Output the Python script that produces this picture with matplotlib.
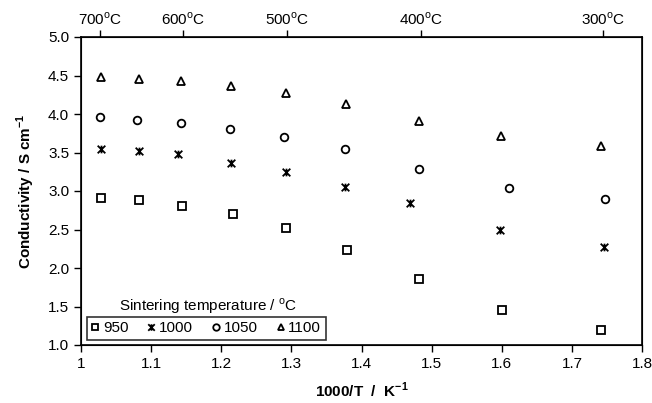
import matplotlib
matplotlib.use("Agg")
import matplotlib.pyplot as plt
from matplotlib.path import Path
import numpy as np

plt.rcParams['font.family'] = ['Liberation Sans', 'DejaVu Sans']
plt.rcParams['mathtext.fontset'] = 'custom'
plt.rcParams['mathtext.rm'] = 'Liberation Sans'
plt.rcParams['mathtext.bf'] = 'Liberation Sans:bold'

# Data
x_950 = [1.029, 1.083, 1.144, 1.217, 1.292, 1.380, 1.482, 1.601, 1.741]
y_950 = [2.91, 2.88, 2.81, 2.70, 2.52, 2.23, 1.86, 1.45, 1.19]
x_1000 = [1.029, 1.082, 1.139, 1.214, 1.292, 1.377, 1.469, 1.597, 1.746]
y_1000 = [3.55, 3.52, 3.48, 3.37, 3.25, 3.05, 2.85, 2.50, 2.27]
x_1050 = [1.027, 1.080, 1.142, 1.213, 1.289, 1.376, 1.482, 1.610, 1.747]
y_1050 = [3.96, 3.92, 3.88, 3.81, 3.70, 3.54, 3.28, 3.04, 2.90]
x_1100 = [1.029, 1.082, 1.143, 1.214, 1.292, 1.378, 1.482, 1.599, 1.741]
y_1100 = [4.48, 4.46, 4.43, 4.36, 4.27, 4.13, 3.91, 3.71, 3.58]
series_labels = ['950', '1000', '1050', '1100']
top_temps_C = [700, 600, 500, 400, 300]
x_ticks = [1, 1.1, 1.2, 1.3, 1.4, 1.5, 1.6, 1.7, 1.8]
x_tick_labels = ['1', '1.1', '1.2', '1.3', '1.4', '1.5', '1.6', '1.7', '1.8']
y_ticks = [1.0, 1.5, 2.0, 2.5, 3.0, 3.5, 4.0, 4.5, 5.0]

star = Path([(-1, -1), (1, 1), (-1, 1), (1, -1), (0, -1.0), (0, 1.0)],
            [Path.MOVETO, Path.LINETO, Path.MOVETO, Path.LINETO, Path.MOVETO, Path.LINETO])

fig = plt.figure(figsize=(6.52, 4.03), dpi=100)
ax = fig.add_axes([81/652, 1-345/403, 561/652, 308/403])

kw = dict(linestyle='none', color='black', markerfacecolor='none', markeredgewidth=1.3)
ms = 5.5
ax.plot(x_950, y_950, marker='s', markersize=ms, label=series_labels[0], **kw)
ax.plot(x_1000, y_1000, marker=star, markersize=ms, label=series_labels[1], **kw)
ax.plot(x_1050, y_1050, marker='o', markersize=ms, label=series_labels[2], **kw)
ax.plot(x_1100, y_1100, marker='^', markersize=ms, label=series_labels[3], **kw)

ax.set_xlim(1, 1.8)
ax.set_ylim(1, 5)
ax.set_xticks(x_ticks)
ax.set_xticklabels(x_tick_labels)
ax.set_yticks(y_ticks)
ax.set_yticklabels([f'{v:.1f}' for v in y_ticks])
ax.tick_params(direction='out', length=5, width=1, labelsize=11, colors='black')
for s in ax.spines.values():
    s.set_linewidth(1.2)

ax.set_xlabel('1000/T  /  K$^{\\mathbf{-1}}$', fontsize=11, fontweight='bold', labelpad=7)
ax.set_ylabel('Conductivity / S cm$^{\\mathbf{-1}}$', fontsize=11, fontweight='bold', labelpad=8)

ax2 = ax.twiny()
ax2.set_xlim(ax.get_xlim())
ax2.set_xticks([1000/(t+273.15) for t in top_temps_C])
ax2.set_xticklabels([f'{t}$^{{\\mathregular{{o}}}}$C' for t in top_temps_C])
ax2.tick_params(direction='out', length=5, width=1, labelsize=11, pad=2)

leg = ax.legend(loc='lower left', bbox_to_anchor=(0.0107, 0.016), borderaxespad=0,
                ncol=4, fontsize=11, handlelength=0.5, handletextpad=0.25,
                columnspacing=1.25, frameon=True, fancybox=False, borderpad=0.3,
                markerscale=0.85)
leg.get_frame().set_edgecolor('black')
leg.get_frame().set_linewidth(1.2)
ax.text(0.226, 0.127, 'Sintering temperature / $^{\\mathregular{o}}$C', transform=ax.transAxes,
        ha='center', va='center', fontsize=11)

fig.savefig('out.png', dpi=100)
